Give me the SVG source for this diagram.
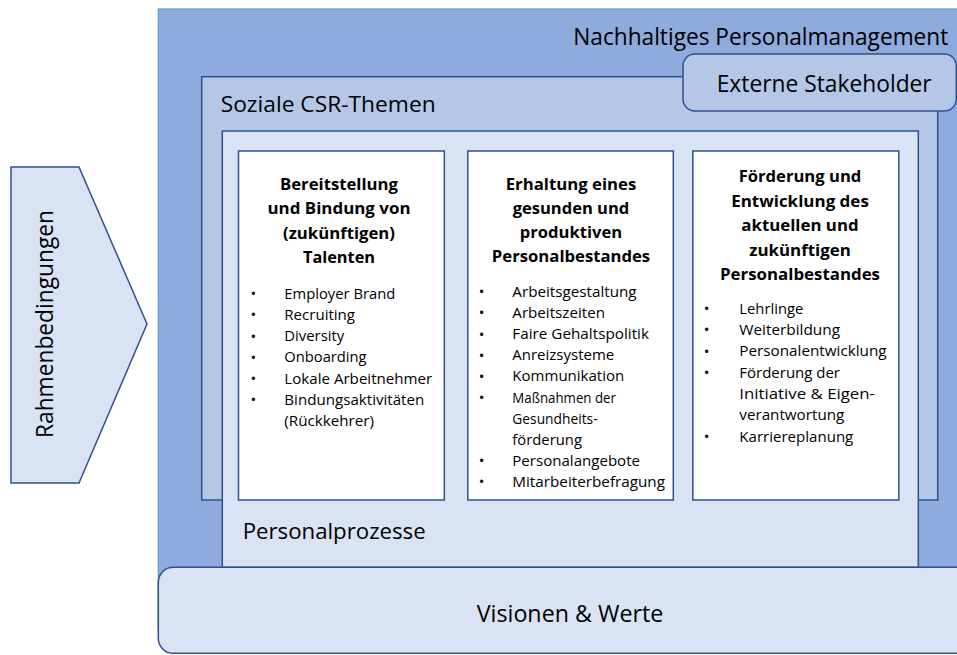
<svg xmlns="http://www.w3.org/2000/svg" width="957" height="655" viewBox="0 0 957 655">
<style>
  .t { font-family: "Open Sans", "Liberation Sans", sans-serif; fill: #000; }
  .big { font-size: 23.4px; }
  .hd { font-size: 16.3px; font-weight: bold; text-anchor: middle; }
  .li { font-size: 14px; }
  .bu { font-family: "Liberation Sans", sans-serif; font-size: 12px; fill: #000; text-anchor: middle; }
  .frame { stroke: #2F528F; stroke-width: 1.5; }
</style>
<rect width="957" height="655" fill="#FFFFFF"/>

<g id="rahmenbedingungen">
  <polygon points="11,167 79,167 147,324 79,483 11,483" fill="#DAE3F3" class="frame"/>
  <text class="t big" transform="translate(53.3,324) rotate(-90)" text-anchor="middle" textLength="228" lengthAdjust="spacingAndGlyphs">Rahmenbedingungen</text>
</g>

<g id="nachhaltiges-personalmanagement">
  <rect x="158.3" y="9" width="800" height="620" fill="#8FAADC" stroke="#5B9BD5" stroke-width="1.2"/>
  <text class="t big" x="573.3" y="45" textLength="375" lengthAdjust="spacingAndGlyphs">Nachhaltiges Personalmanagement</text>
</g>

<g id="soziale-csr-themen">
  <rect x="201.7" y="76.7" width="736" height="423.3" fill="#B4C7E7" class="frame"/>
  <text class="t" font-size="22.5" x="220.7" y="112" textLength="215" lengthAdjust="spacingAndGlyphs">Soziale CSR-Themen</text>
</g>

<g id="externe-stakeholder">
  <rect x="683" y="54" width="273.3" height="57" rx="12" ry="12" fill="#B4C7E7" class="frame"/>
  <text class="t big" x="716.7" y="92" textLength="215" lengthAdjust="spacingAndGlyphs">Externe Stakeholder</text>
</g>

<g id="personalprozesse">
  <rect x="222.3" y="131" width="696" height="436.3" fill="#DAE3F3" class="frame"/>
  <text class="t" font-size="22.5" x="242.7" y="539.3" textLength="183" lengthAdjust="spacingAndGlyphs">Personalprozesse</text>
</g>

<g id="talente">
  <rect x="238.5" y="151" width="205.8" height="349" fill="#FFFFFF" class="frame"/>
  <text class="t hd" x="339" y="189.5" textLength="118" lengthAdjust="spacingAndGlyphs">Bereitstellung</text>
  <text class="t hd" x="339" y="214" textLength="143" lengthAdjust="spacingAndGlyphs">und Bindung von</text>
  <text class="t hd" x="339" y="238.5" textLength="112" lengthAdjust="spacingAndGlyphs">(zukünftigen)</text>
  <text class="t hd" x="339" y="263" textLength="72" lengthAdjust="spacingAndGlyphs">Talenten</text>
  <text class="bu" x="253.3" y="298.3">•</text>
  <text class="bu" x="253.3" y="319.4">•</text>
  <text class="bu" x="253.3" y="340.6">•</text>
  <text class="bu" x="253.3" y="361.7">•</text>
  <text class="bu" x="253.3" y="382.9">•</text>
  <text class="bu" x="253.3" y="404">•</text>
  <text class="t li" x="284.3" y="299" textLength="111" lengthAdjust="spacingAndGlyphs">Employer Brand</text>
  <text class="t li" x="284.3" y="320.1" textLength="70.7" lengthAdjust="spacingAndGlyphs">Recruiting</text>
  <text class="t li" x="284.3" y="341.3" textLength="60" lengthAdjust="spacingAndGlyphs">Diversity</text>
  <text class="t li" x="284.3" y="362.4" textLength="82.3" lengthAdjust="spacingAndGlyphs">Onboarding</text>
  <text class="t li" x="284.3" y="383.6" textLength="148" lengthAdjust="spacingAndGlyphs">Lokale Arbeitnehmer</text>
  <text class="t li" x="284.3" y="404.7" textLength="140" lengthAdjust="spacingAndGlyphs">Bindungsaktivitäten</text>
  <text class="t li" x="284.3" y="425.8" textLength="89.7" lengthAdjust="spacingAndGlyphs">(Rückkehrer)</text>
</g>

<g id="personalbestand-erhaltung">
  <rect x="467.8" y="151" width="205.5" height="349" fill="#FFFFFF" class="frame"/>
  <text class="t hd" x="571" y="189.5" textLength="130.7" lengthAdjust="spacingAndGlyphs">Erhaltung eines</text>
  <text class="t hd" x="571" y="213.8" textLength="116.7" lengthAdjust="spacingAndGlyphs">gesunden und</text>
  <text class="t hd" x="571" y="238.1" textLength="102.3" lengthAdjust="spacingAndGlyphs">produktiven</text>
  <text class="t hd" x="571" y="262.4" textLength="158.3" lengthAdjust="spacingAndGlyphs">Personalbestandes</text>
  <text class="bu" x="481.7" y="296.3">•</text>
  <text class="bu" x="481.7" y="317.4">•</text>
  <text class="bu" x="481.7" y="338.5">•</text>
  <text class="bu" x="481.7" y="359.6">•</text>
  <text class="bu" x="481.7" y="380.7">•</text>
  <text class="bu" x="481.7" y="401.8">•</text>
  <text class="bu" x="481.7" y="465.1">•</text>
  <text class="bu" x="481.7" y="486.2">•</text>
  <text class="t li" x="512.3" y="297" textLength="124.3" lengthAdjust="spacingAndGlyphs">Arbeitsgestaltung</text>
  <text class="t li" x="512.3" y="318.1" textLength="92.7" lengthAdjust="spacingAndGlyphs">Arbeitszeiten</text>
  <text class="t li" x="512.3" y="339.2" textLength="136.7" lengthAdjust="spacingAndGlyphs">Faire Gehaltspolitik</text>
  <text class="t li" x="512.3" y="360.3" textLength="102" lengthAdjust="spacingAndGlyphs">Anreizsysteme</text>
  <text class="t li" x="512.3" y="381.4" textLength="112" lengthAdjust="spacingAndGlyphs">Kommunikation</text>
  <text class="t li" x="512.3" y="402.5" textLength="103.7" lengthAdjust="spacingAndGlyphs">Maßnahmen der</text>
  <text class="t li" x="512.3" y="423.6" textLength="85.3" lengthAdjust="spacingAndGlyphs">Gesundheits-</text>
  <text class="t li" x="512.3" y="444.7" textLength="69.7" lengthAdjust="spacingAndGlyphs">förderung</text>
  <text class="t li" x="512.3" y="465.8" textLength="127.7" lengthAdjust="spacingAndGlyphs">Personalangebote</text>
  <text class="t li" x="512.3" y="486.9" textLength="152.7" lengthAdjust="spacingAndGlyphs">Mitarbeiterbefragung</text>
</g>

<g id="personalbestand-foerderung">
  <rect x="692.8" y="151" width="206" height="349" fill="#FFFFFF" class="frame"/>
  <text class="t hd" x="800" y="182" textLength="122.7" lengthAdjust="spacingAndGlyphs">Förderung und</text>
  <text class="t hd" x="800" y="206.5" textLength="137.7" lengthAdjust="spacingAndGlyphs">Entwicklung des</text>
  <text class="t hd" x="800" y="231" textLength="117.3" lengthAdjust="spacingAndGlyphs">aktuellen und</text>
  <text class="t hd" x="800" y="255.5" textLength="101.7" lengthAdjust="spacingAndGlyphs">zukünftigen</text>
  <text class="t hd" x="800" y="280" textLength="160" lengthAdjust="spacingAndGlyphs">Personalbestandes</text>
  <text class="bu" x="706.7" y="312.8">•</text>
  <text class="bu" x="706.7" y="334.2">•</text>
  <text class="bu" x="706.7" y="355.5">•</text>
  <text class="bu" x="706.7" y="376.9">•</text>
  <text class="bu" x="706.7" y="440.9">•</text>
  <text class="t li" x="739.3" y="313.5" textLength="64" lengthAdjust="spacingAndGlyphs">Lehrlinge</text>
  <text class="t li" x="739.3" y="334.9" textLength="100.7" lengthAdjust="spacingAndGlyphs">Weiterbildung</text>
  <text class="t li" x="739.3" y="356.2" textLength="147.3" lengthAdjust="spacingAndGlyphs">Personalentwicklung</text>
  <text class="t li" x="739.3" y="377.6" textLength="100.7" lengthAdjust="spacingAndGlyphs">Förderung der</text>
  <text class="t li" x="739.3" y="398.9" textLength="135.7" lengthAdjust="spacingAndGlyphs">Initiative &amp; Eigen-</text>
  <text class="t li" x="739.3" y="420.3" textLength="105" lengthAdjust="spacingAndGlyphs">verantwortung</text>
  <text class="t li" x="739.3" y="441.6" textLength="114" lengthAdjust="spacingAndGlyphs">Karriereplanung</text>
</g>

<g id="visionen-werte">
  <rect x="158.3" y="567.3" width="820" height="86" rx="15" ry="15" fill="#DAE3F3" class="frame"/>
  <text class="t big" x="476.7" y="621.7" textLength="186.7" lengthAdjust="spacingAndGlyphs">Visionen &amp; Werte</text>
</g>

<g id="connectors"/>
</svg>
